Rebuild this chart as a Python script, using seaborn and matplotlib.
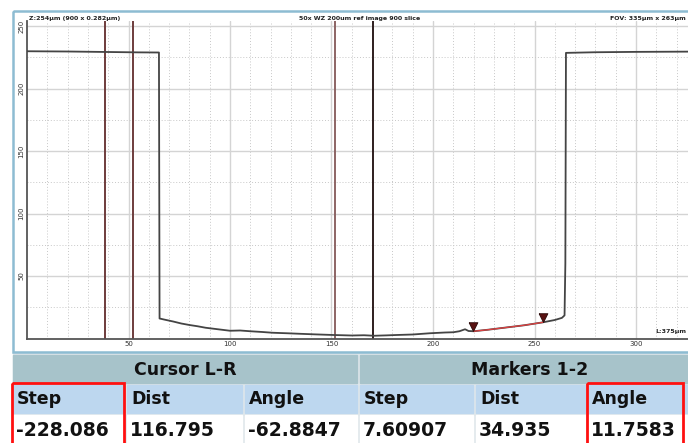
import numpy as np
import seaborn as sns
import matplotlib.pyplot as plt
from matplotlib.patches import Rectangle

# profile (x in um, height in um)
profile_x = [0, 20, 40, 55, 65.0, 65.3, 68, 72, 76, 80, 84, 88, 94, 100, 105, 110, 116, 121, 128, 134,
             142, 151, 160, 166, 171, 177, 182, 190, 198.5, 206, 210, 213, 215.8, 217.5, 220, 227, 235,
             245, 254, 260, 263.5, 264.8, 265.2, 265.5, 280, 300, 326]
profile_y = [229.8, 229.6, 229.2, 228.9, 228.8, 16.0, 15.0, 13.6, 12.0, 10.8, 9.8, 8.6, 7.4, 6.2, 6.4,
             5.8, 5.2, 4.6, 4.2, 3.8, 3.3, 2.8, 2.4, 2.6, 2.2, 2.5, 2.8, 3.2, 4.2, 4.8, 5.0, 5.8, 7.4,
             6.0, 5.8, 7.0, 8.6, 10.6, 12.9, 14.8, 16.5, 18.5, 60.0, 228.5, 229.0, 229.3, 229.5]

cursor_x = [38.4, 52.2, 151.7, 170.4]
cursor_colors = ["#6e3c3c", "#6e3c3c", "#8c6464", "#2e1e1e"]
marker_x = [219.9, 254.3]
marker_y = [5.8, 12.9]

y_ticks = [50, 100, 150, 200, 250]
x_ticks = [50, 100, 150, 200, 250, 300]

group_labels = ["Cursor L-R", "Markers 1-2"]
col_labels = ["Step", "Dist", "Angle", "Step", "Dist", "Angle"]
col_values = ["-228.086", "116.795", "-62.8847", "7.60907", "34.935", "11.7583"]
boxed_cols = [0, 5]

sns.set_style("white")
plt.rcParams["font.family"] = ["DejaVu Sans"]

W, H = 688, 443
fig = plt.figure(figsize=(W / 100, H / 100), dpi=100)

# screen overlay in pixel coordinates
ov = fig.add_axes([0, 0, 1, 1], zorder=0)
ov.set_xlim(0, W)
ov.set_ylim(H, 0)
ov.axis("off")

# plot area
ax_l, ax_b, ax_r, ax_t = 27, 338.5, W, 21
ax = fig.add_axes([ax_l / W, (H - ax_b) / H, (ax_r - ax_l) / W, (ax_b - ax_t) / H], zorder=1)
ax.set_facecolor("none")
ax.set_xlim(0, (ax_r - ax_l) / 2.03)
ax.set_ylim(0, 254)

for v in np.arange(10, 330, 10):
    if v % 50:
        ax.axvline(v, color="#c8c8c8", lw=0.7, ls=(0, (1, 2)), zorder=0)
    else:
        ax.axvline(v, color="#d4d4d4", lw=1.0, zorder=0)
for v in np.arange(25, 254, 25):
    if v % 50:
        ax.axhline(v, color="#c8c8c8", lw=0.7, ls=(0, (1, 2)), zorder=0)
    else:
        ax.axhline(v, color="#d4d4d4", lw=1.0, zorder=0)

for cx, cc in zip(cursor_x, cursor_colors):
    ax.axvline(cx, color=cc, lw=1.4, zorder=2)

sns.lineplot(x=profile_x, y=profile_y, sort=False, estimator=None, color="#444444", lw=1.3, ax=ax, zorder=3)
seg_x = [x for x in profile_x if marker_x[0] <= x <= marker_x[1]]
seg_y = [y for x, y in zip(profile_x, profile_y) if marker_x[0] <= x <= marker_x[1]]
sns.lineplot(x=seg_x, y=seg_y, sort=False, estimator=None, color="#e04040", lw=0.9, ax=ax, zorder=4)

tri = [(-0.5, 1.0), (0.5, 1.0), (0.0, 0.0), (-0.5, 1.0)]
ax.scatter(marker_x, marker_y, marker=tri, s=160, color="#5a1212", edgecolor="#2a0808", lw=0.6, zorder=5)

ax.set_xticks(x_ticks)
ax.set_xticklabels([str(t) for t in x_ticks], fontsize=5, color="#333333")
ax.set_yticks(y_ticks)
ax.set_yticklabels([str(t) for t in y_ticks], fontsize=5, color="#333333", rotation=90, va="center")
ax.tick_params(length=0, pad=2)
for s in ["top", "right"]:
    ax.spines[s].set_visible(False)
for s in ["left", "bottom"]:
    ax.spines[s].set_color("#555555")
    ax.spines[s].set_linewidth(1.3)

# window frame and header texts
ov.add_patch(Rectangle((13, 11), W, 341, fill=False, ec="#8dbcd2", lw=1.8))
ov.text(29, 18, "Z:254μm (900 x 0.282μm)", fontsize=4.5, fontweight="bold", color="#222222", va="center")
ov.text(360, 18, "50x WZ 200um ref image 900 slice", fontsize=4.5, fontweight="bold",
        color="#222222", ha="center", va="center")
ov.text(686, 18, "FOV: 335μm x 263μm", fontsize=4.5, fontweight="bold", color="#222222",
        ha="right", va="center")
ov.text(686, 332, "L:375μm", fontsize=4.5, fontweight="bold", color="#222222", ha="right", va="center")

# results table
ov.add_patch(Rectangle((13, 352), W, H - 352, color="#dfe7eb", zorder=0))
col_edges = [(13, 124), (127, 242), (245, 357), (360, 473), (476, 585), (588, 700)]
group_edges = [(13, 357), (360, 700)]
for (g0, g1), lab in zip(group_edges, group_labels):
    ov.add_patch(Rectangle((g0, 355), g1 - g0, 28, color="#a7c3ca", zorder=1))
    ov.text((g0 + g1) / 2, 370, lab, fontsize=12.5, fontweight="bold", color="#111111",
            ha="center", va="center", zorder=3)
for i, ((c0, c1), lab, val) in enumerate(zip(col_edges, col_labels, col_values)):
    ov.add_patch(Rectangle((c0, 385), c1 - c0, 28, color="#bdd7ef", zorder=1))
    ov.add_patch(Rectangle((c0, 415), c1 - c0, 30, color="white", zorder=1))
    ov.text(c0 + 4, 399, lab, fontsize=12.5, fontweight="bold", color="#111111", va="center", zorder=3)
    ov.text(c0 + 3, 430, val, fontsize=13.5, fontweight="bold", color="#111111", va="center", zorder=3)
    if i in boxed_cols:
        right = c1 if i == 0 else 683
        ov.add_patch(Rectangle((c0 - 1, 383), right - c0 + 1, 62,
                               fill=False, ec="#ff1010", lw=2.0, zorder=4))

fig.savefig("out.png", dpi=100)
